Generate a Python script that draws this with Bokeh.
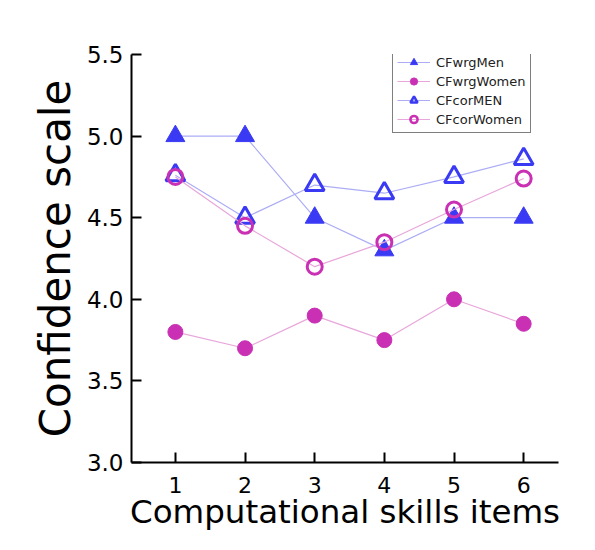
from bokeh.plotting import figure
from bokeh.models import Range1d, Legend, LegendItem, ColumnDataSource, FixedTicker, CustomJSTickFormatter
from bokeh.embed import file_html
from bokeh.resources import INLINE

items = [1, 2, 3, 4, 5, 6]
cf_wrg_men = [5.0, 5.0, 4.5, 4.3, 4.5, 4.5]
cf_wrg_women = [3.8, 3.7, 3.9, 3.75, 4.0, 3.85]
cf_cor_men = [4.76, 4.5, 4.7, 4.65, 4.75, 4.86]
cf_cor_women = [4.75, 4.45, 4.2, 4.35, 4.55, 4.74]
y_ticks = [3.0, 3.5, 4.0, 4.5, 5.0, 5.5]

BLUE = "#3a3af5"
MAG = "#c930b4"
BLUE_L = "#adadf5"
MAG_L = "#e8a6da"
FONT = "DejaVu Sans"

p = figure(width=587, height=542, output_backend="svg", toolbar_location=None,
           x_range=Range1d(0.37, 6.5), y_range=Range1d(3.0, 5.5),
           min_border_left=131, min_border_right=29, min_border_top=54, min_border_bottom=80)
p.outline_line_color = None
p.xgrid.visible = False
p.ygrid.visible = False
p.background_fill_color = "white"
p.border_fill_color = "white"

series = [
    ("CFwrgMen", cf_wrg_men, BLUE, BLUE_L, "triangle", True),
    ("CFwrgWomen", cf_wrg_women, MAG, MAG_L, "circle", True),
    ("CFcorMEN", cf_cor_men, BLUE, BLUE_L, "triangle", False),
    ("CFcorWomen", cf_cor_women, MAG, MAG_L, "circle", False),
]

legend_items = []
for name, vals, col, lcol, marker, filled in series:
    src = ColumnDataSource(dict(x=items, y=vals))
    p.line("x", "y", source=src, line_color=lcol, line_width=1.2)
    size = 19 if marker == "triangle" else 15
    p.scatter("x", "y", source=src, marker=marker, size=size,
              fill_color=col if filled else "white",
              fill_alpha=1.0 if filled else 0.0,
              line_color=col, line_width=1 if filled else 3)
    # legend proxies (smaller markers, not drawn in the plot)
    proxy = ColumnDataSource(dict(x=[float("nan")], y=[float("nan")]))
    lr = p.line("x", "y", source=proxy, line_color=lcol, line_width=1.2)
    lsize = 13 if marker == "triangle" else 10
    sr = p.scatter("x", "y", source=proxy, marker=marker, size=lsize,
                   fill_color=col if filled else "white",
                   fill_alpha=1.0 if filled else 0.0,
                   line_color=col, line_width=1 if filled else 2.5)
    legend_items.append(LegendItem(label=name, renderers=[lr, sr]))

legend = Legend(items=legend_items, location=(261, 329))
legend.border_line_color = "black"
legend.border_line_width = 1
legend.label_text_font = FONT
legend.label_text_font_size = "13px"
legend.label_text_color = "#222222"
legend.glyph_width = 33
legend.glyph_height = 18
legend.label_height = 18
legend.spacing = 1
legend.padding = 4
legend.margin = 0
legend.label_standoff = 6
legend.background_fill_alpha = 1.0
p.add_layout(legend, "center")

# x axis
xa = p.xaxis[0]
xa.ticker = FixedTicker(ticks=items)
xa.axis_label = "Computational skills items"
xa.axis_label_text_font = FONT
xa.axis_label_text_font_style = "normal"
xa.axis_label_text_font_size = "32.5px"
xa.axis_label_text_color = "black"
xa.axis_label_standoff = -3
xa.major_label_text_font = FONT
xa.major_label_text_font_size = "22px"
xa.major_label_text_color = "black"
xa.major_label_standoff = 14
xa.major_tick_in = 10
xa.major_tick_out = 0
xa.minor_tick_in = 0
xa.minor_tick_out = 0
xa.axis_line_width = 2
xa.major_tick_line_width = 2
xa.axis_line_color = "black"

ya = p.yaxis[0]
ya.ticker = FixedTicker(ticks=y_ticks)
ya.formatter = CustomJSTickFormatter(code="return tick.toFixed(1);")
ya.axis_label = "Confidence scale"
ya.axis_label_text_font = FONT
ya.axis_label_text_font_style = "normal"
ya.axis_label_text_font_size = "42px"
ya.axis_label_text_color = "black"
ya.axis_label_standoff = 4
ya.major_label_text_font = FONT
ya.major_label_text_font_size = "23px"
ya.major_label_text_color = "black"
ya.major_label_standoff = 8
ya.major_tick_in = 10
ya.major_tick_out = 0
ya.minor_tick_in = 0
ya.minor_tick_out = 0
ya.axis_line_width = 2
ya.major_tick_line_width = 2
ya.axis_line_color = "black"

open("out.html", "w").write(file_html(p, INLINE))
